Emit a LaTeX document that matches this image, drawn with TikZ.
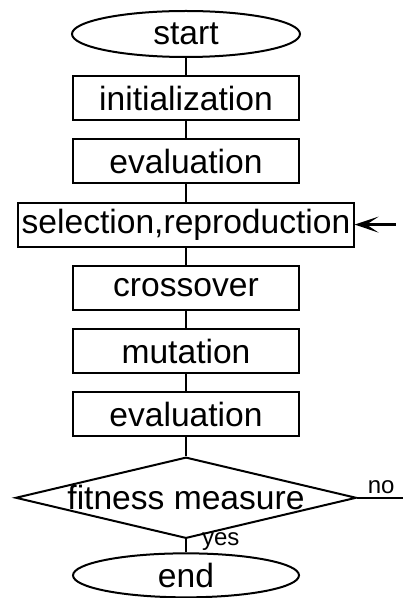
\documentclass[tikz,border=0pt]{standalone}
\usepackage{fontspec}
\setmainfont{Liberation Sans}
\usetikzlibrary{shapes.geometric, arrows.meta, positioning}

\begin{document}
\begin{tikzpicture}[
    node distance=8.6pt,
    term/.style={ellipse, draw, line width=1pt, minimum width=114pt, minimum height=23pt, inner sep=0pt, inner ysep=-1.2pt, font=\fontsize{16.8}{18}\selectfont},
    process/.style={rectangle, draw, line width=1pt, minimum width=113pt, minimum height=22pt, inner sep=1.6pt, text centered, font=\fontsize{16.8}{18}\selectfont},
    decision/.style={diamond, draw, line width=1pt, shape aspect=4.2, inner sep=0pt, minimum width=168.5pt, minimum height=40pt, font=\fontsize{16.8}{18}\selectfont},
    line/.style={line width=1pt},
    arr/.style={-{Stealth[length=12pt, width=8pt, inset=6pt]}, line width=1.2pt},
    lbl/.style={font=\fontsize{12}{13}\selectfont, inner sep=1.5pt},
]

\useasboundingbox (0,0) rectangle (201pt,-299pt);

\node[term] (start) at (93pt,-17pt) {start};
\node[process, below=of start] (init) {initialization};
\node[process, below=of init] (eval) {evaluation};
\node[process, below=of eval] (select) {selection,reproduction};
\node[process, below=of select] (cross) {crossover};
\node[process, below=of cross] (mutate) {mutation};
\node[process, below=of mutate] (evaltwo) {evaluation};
\node[decision, below=9.5pt of evaltwo] (fitness) {fitness measure};
\node[term, below=6.5pt of fitness, minimum width=113pt, minimum height=22pt] (end) {end};

\coordinate[right=23.75pt of fitness.east] (noout);
\coordinate[right=20.5pt of select.east] (loopin);

\draw[line] (start) -- (init);
\draw[line] (init) -- (eval);
\draw[line] (eval) -- (select);
\draw[line] (select) -- (cross);
\draw[line] (cross) -- (mutate);
\draw[line] (mutate) -- (evaltwo);
\draw[line] (evaltwo) -- (fitness);
\draw[line] (fitness) -- node[lbl, right=6pt, pos=0.2] {yes} (end);
\draw[line] (fitness.east) -- node[lbl, above] {no} (noout);
\draw[arr] (loopin) -- (select.east);

\end{tikzpicture}
\end{document}
